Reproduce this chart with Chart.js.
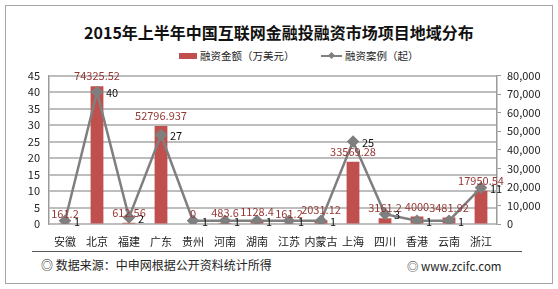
<!DOCTYPE html>
<html>
<head>
<meta charset="utf-8">
<script src="https://cdn.jsdelivr.net/npm/chart.js@4/dist/chart.umd.min.js"></script>
<style>
  html, body { margin: 0; padding: 0; background: #fff; }
  body { width: 558px; height: 289px; position: relative; overflow: hidden;
         font-family: "Noto Sans CJK SC", "Noto Sans", sans-serif; }
  #frame { position: absolute; left: 5px; top: 5px; width: 546px; height: 277px; border: 1px solid #a6a6a6; }
  #title { position: absolute; left: 0; top: 21px; width: 558px; text-align: center;
           font-size: 16px; font-weight: bold; color: #111; line-height: 22px; }
  .leg { position: absolute; top: 48px; font-size: 10.5px; color: #222; line-height: 16px; white-space: nowrap; }
  .box { display: inline-block; width: 18px; height: 6px; background: #c0504d; vertical-align: middle; margin-right: 3px; position: relative; top: -1px; }
  .ln { display: inline-block; width: 21px; height: 2px; background: #7f7f7f; vertical-align: middle; margin-right: 3px; position: relative; top: -1px; }
  .ln i { position: absolute; left: 8px; top: -2px; width: 5px; height: 5px; background: #7f7f7f; transform: rotate(45deg); }
  #wrap { position: absolute; left: 6px; top: 60px; width: 546px; height: 190px; }
  #rule { position: absolute; left: 32px; top: 251px; width: 490px; height: 0; border-top: 1.5px solid #595959; }
  #src { position: absolute; left: 41px; top: 257px; font-size: 12px; color: #222; line-height: 16px; }
  #web { position: absolute; left: 407px; top: 258px; font-size: 11.5px; color: #222; line-height: 16px; }
</style>
</head>
<body>
<div id="frame"></div>
<div id="title">2015年上半年中国互联网金融投融资市场项目地域分布</div>
<div class="leg" style="left:179px"><span class="box"></span>融资金额（万美元）</div>
<div class="leg" style="left:321px"><span class="ln"><i></i></span>融资案例（起）</div>
<div id="wrap"><canvas id="chart" width="546" height="190"></canvas></div>
<div id="rule"></div>
<div id="src">◎ 数据来源：中申网根据公开资料统计所得</div>
<div id="web">◎ www.zcifc.com</div>
<script>
// Data
const regions = ['安徽', '北京', '福建', '广东', '贵州', '河南', '湖南', '江苏', '内蒙古', '上海', '四川', '香港', '云南', '浙江'];
const amounts = [161.2, 74325.52, 612.56, 52796.937, 0, 483.6, 1128.4, 161.2, 2031.12, 33569.28, 3161.2, 4000, 3481.92, 17950.54];
const amountLabels = ['161.2', '74325.52', '612.56', '52796.937', '0', '483.6', '1128.4', '161.2', '2031.12', '33569.28', '3161.2', '4000', '3481.92', '17950.54'];
const cases = [1, 40, 2, 27, 1, 1, 1, 1, 1, 25, 3, 1, 1, 11];

const FONT = '"Noto Sans CJK SC", "Noto Sans", sans-serif';

// Draws the value labels: amounts above the bars, case counts right of the points
const valueLabels = {
    id: 'valueLabels',
    afterDatasetsDraw(chart) {
        const ctx = chart.ctx;
        ctx.save();
        ctx.font = '11px ' + FONT;
        ctx.textBaseline = 'middle';

        const barMeta = chart.getDatasetMeta(0);
        ctx.fillStyle = '#953735';
        ctx.textAlign = 'center';
        barMeta.data.forEach((bar, i) => {
            ctx.fillText(amountLabels[i], bar.x, bar.y - 10);
        });

        const lineMeta = chart.getDatasetMeta(1);
        ctx.fillStyle = '#111';
        ctx.textAlign = 'left';
        lineMeta.data.forEach((pt, i) => {
            ctx.fillText(String(cases[i]), pt.x + 9, pt.y + 1);
        });
        ctx.restore();
    }
};

const ctx = document.getElementById('chart').getContext('2d');
new Chart(ctx, {
    type: 'bar',
    data: {
        labels: regions,
        datasets: [
            {
                type: 'bar',
                label: '融资金额（万美元）',
                data: amounts,
                yAxisID: 'y1',
                backgroundColor: '#c0504d',
                categoryPercentage: 1,
                barPercentage: 0.4,
                order: 1
            },
            {
                type: 'line',
                label: '融资案例（起）',
                data: cases,
                yAxisID: 'y',
                borderColor: '#7f7f7f',
                backgroundColor: '#7f7f7f',
                borderWidth: 2.5,
                pointStyle: 'rectRot',
                pointRadius: 4.5,
                tension: 0,
                order: 0
            }
        ]
    },
    options: {
        responsive: false,
        animation: false,
        layout: { padding: { top: 13, left: 0, right: 0, bottom: 0 } },
        plugins: {
            legend: { display: false },
            tooltip: { enabled: false }
        },
        scales: {
            x: {
                offset: true,
                grid: { display: false, drawTicks: false },
                border: { display: false },
                ticks: { color: '#222', font: { size: 11, family: FONT }, padding: 11, maxRotation: 0, autoSkip: false },
                afterFit: s => { s.height = 26; }
            },
            y: {
                position: 'left',
                min: 0, max: 45,
                ticks: { stepSize: 5, color: '#222', font: { size: 11, family: FONT }, padding: 9 },
                grid: { color: '#bdbdbd', lineWidth: 2, drawTicks: false },
                border: { display: true, color: '#9a9a9a', width: 1.5 },
                afterFit: s => { s.width = 43; }
            },
            y1: {
                position: 'right',
                min: 0, max: 80000,
                ticks: { stepSize: 10000, color: '#222', font: { size: 11, family: FONT }, padding: 6 },
                grid: { drawOnChartArea: false, drawTicks: true, tickLength: 4, color: '#9a9a9a' },
                border: { display: true, color: '#9a9a9a', width: 1.5 },
                afterFit: s => { s.width = 55; }
            }
        }
    },
    plugins: [valueLabels]
});
</script>
</body>
</html>
